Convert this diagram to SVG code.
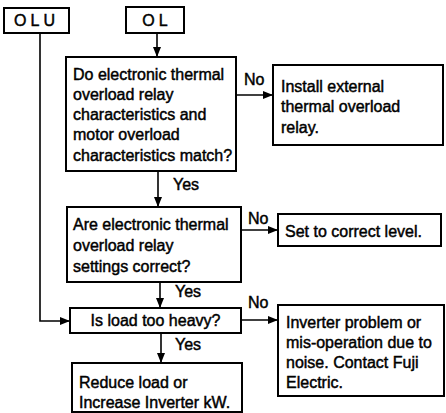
<svg xmlns="http://www.w3.org/2000/svg" width="446" height="413" viewBox="0 0 446 413">
<defs>
<marker id="ah" viewBox="0 0 10 8" refX="10" refY="4" markerWidth="10" markerHeight="8" markerUnits="userSpaceOnUse" orient="auto">
<path d="M0,0 L10,4 L0,8 z" fill="#000"/>
</marker>
<style>
.box{fill:#fff;stroke:#000;stroke-width:2}
.t{font-family:"Liberation Sans",Arial,sans-serif;font-size:16px;fill:#000;stroke:#000;stroke-width:0.45}
.c{fill:none;stroke:#000;stroke-width:1.6}
.a{marker-end:url(#ah)}
</style>
</defs>
<rect width="446" height="413" fill="#fff"/>
<g id="connectors">
<path class="c a" d="M157,33 V57"/>
<path class="c a" d="M236,95 H273"/>
<path class="c a" d="M158,171 V207"/>
<path class="c a" d="M241,230 H278"/>
<path class="c a" d="M160,282 V308"/>
<path class="c a" d="M40,33 V321 H70"/>
<path class="c a" d="M241,320 H278"/>
<path class="c a" d="M161,333 V363"/>
<text class="t" x="244" y="85">No</text>
<text class="t" x="173" y="190">Yes</text>
<text class="t" x="248" y="224">No</text>
<text class="t" x="175" y="297">Yes</text>
<text class="t" x="248" y="308">No</text>
<text class="t" x="175" y="350">Yes</text>
</g>
<g id="olu">
<rect class="box" x="4" y="8" width="65" height="25"/>
<text class="t" x="36.5" y="26" text-anchor="middle" letter-spacing="4">OLU</text>
</g>
<g id="ol">
<rect class="box" x="126" y="7" width="58" height="26"/>
<text class="t" x="157" y="26" text-anchor="middle" letter-spacing="4">OL</text>
</g>
<g id="q1">
<rect class="box" x="66" y="57" width="170" height="114"/>
<text class="t" x="73" y="80">Do electronic thermal</text>
<text class="t" x="73" y="100">overload relay</text>
<text class="t" x="73" y="120">characteristics and</text>
<text class="t" x="73" y="140">motor overload</text>
<text class="t" x="73" y="161">characteristics match?</text>
</g>
<g id="install">
<rect class="box" x="273" y="65" width="170" height="80"/>
<text class="t" x="281" y="92">Install external</text>
<text class="t" x="281" y="112">thermal overload</text>
<text class="t" x="281" y="133">relay.</text>
</g>
<g id="q2">
<rect class="box" x="67" y="207" width="174" height="75"/>
<text class="t" x="73" y="230">Are electronic thermal</text>
<text class="t" x="73" y="251">overload relay</text>
<text class="t" x="73" y="272">settings correct?</text>
</g>
<g id="set">
<rect class="box" x="278" y="214" width="163" height="32"/>
<text class="t" x="285" y="237">Set to correct level.</text>
</g>
<g id="q3">
<rect class="box" x="70" y="308" width="171" height="25"/>
<text class="t" x="155.5" y="326" text-anchor="middle" font-size="16.5">Is load too heavy?</text>
</g>
<g id="inverter">
<rect class="box" x="278" y="305" width="166" height="91"/>
<text class="t" x="286" y="328">Inverter problem or</text>
<text class="t" x="286" y="348">mis-operation due to</text>
<text class="t" x="286" y="368">noise. Contact Fuji</text>
<text class="t" x="286" y="388">Electric.</text>
</g>
<g id="reduce">
<rect class="box" x="72" y="363" width="170" height="49"/>
<text class="t" x="79" y="388">Reduce load or</text>
<text class="t" x="79" y="408">Increase Inverter kW.</text>
</g>
</svg>
